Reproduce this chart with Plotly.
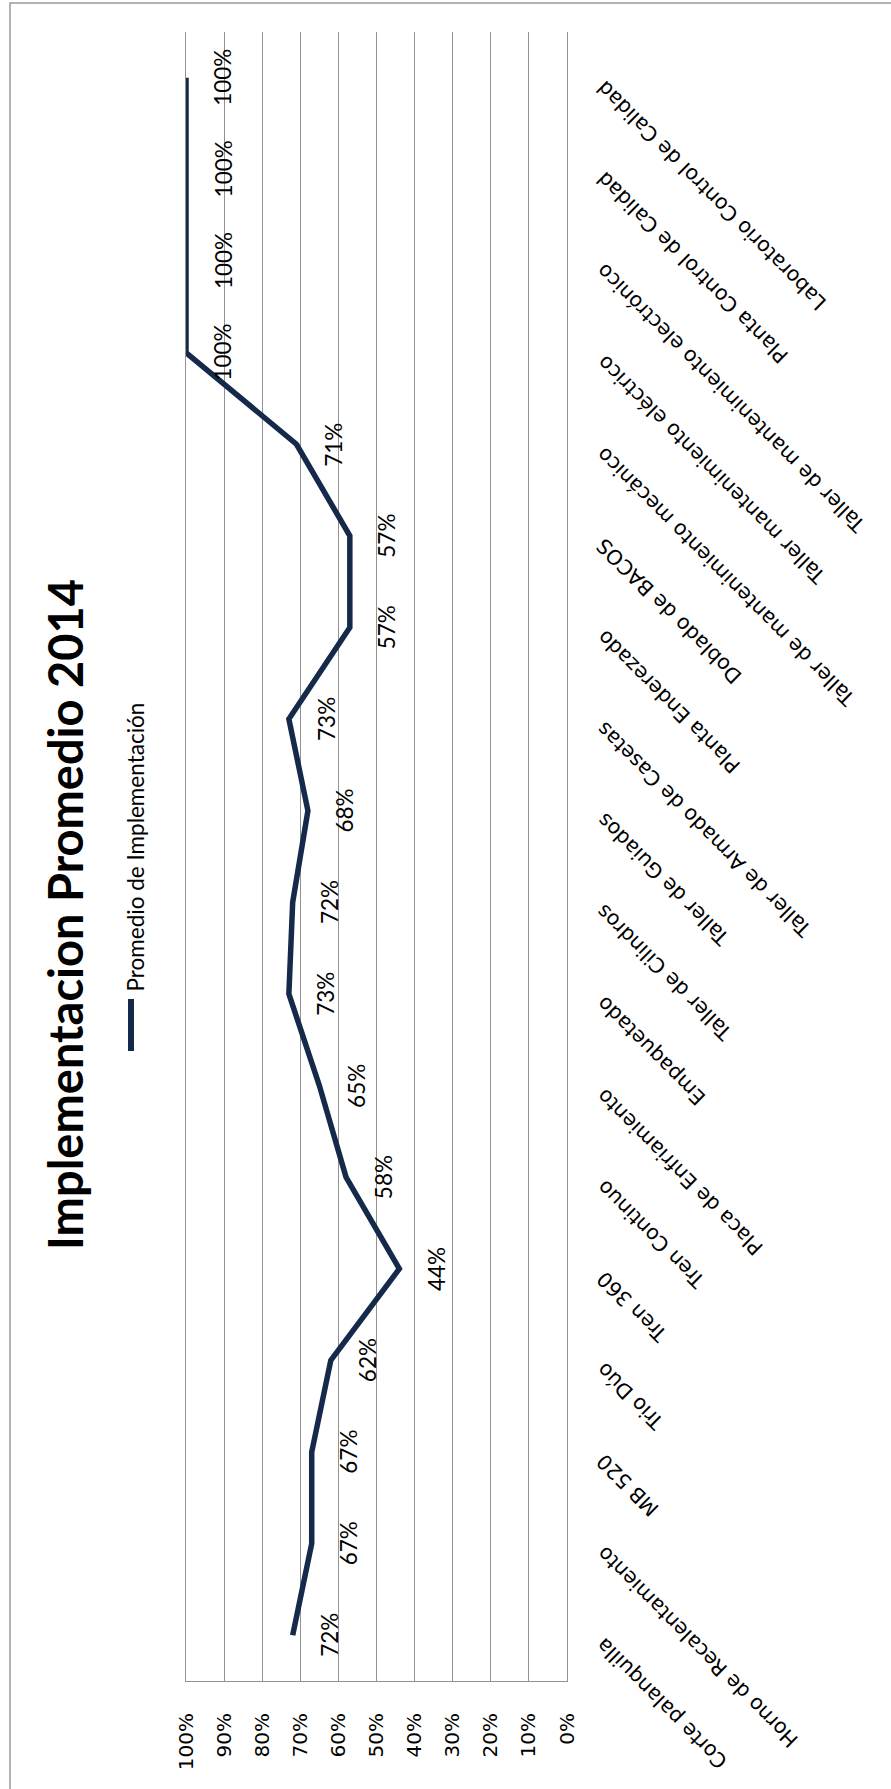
import plotly.graph_objects as go

categories = [
    "Corte palanquilla", "Horno de Recalentamiento", "MB 520", "Trio Dúo",
    "Tren 360", "Tren Continuo", "Placa de Enfriamiento", "Empaquetado",
    "Taller de Cilindros", "Taller de Guiados", "Taller de Armado de Casetas",
    "Planta Enderezado", "Doblado de BACOS", "Taller de mantenimiento mecánico",
    "Taller mantenimiento eléctrico", "Taller de mantenimiento electrónico",
    "Planta Control de Calidad", "Laboratorio Control de Calidad",
]
values = [72, 67, 67, 62, 44, 58, 65, 73, 72, 68, 73, 57, 57, 71, 100, 100, 100, 100]
tick_vals = [i / 10 for i in range(11)]
tick_text = [f"{i * 10}%" for i in range(11)]

W, H = 891, 1789
L, R, T, B = 186, 567, 32, 1681
PW, PH = R - L, B - T


def px_x(px):
    return (px - L) / PW


def px_y(py):
    return (B - py) / PH


LINE = "#152a4a"
GRID = "#929292"

fig = go.Figure()
fig.add_trace(go.Scatter(
    x=[v / 100 for v in values], y=categories, mode="lines",
    line=dict(color=LINE, width=5.5), showlegend=False, hoverinfo="skip",
))

annotations = []
# data labels
for c, v in zip(categories, values):
    annotations.append(dict(
        x=v / 100, y=c, xref="x", yref="y", text=f"{v}%", showarrow=False,
        textangle=-90, xanchor="center", yanchor="middle", xshift=37,
        font=dict(family="Lato", size=22.5, color="#000000"),
    ))
# category labels
for c in categories:
    annotations.append(dict(
        x=px_x(589), y=c, xref="paper", yref="y", text=c, showarrow=False,
        textangle=-135, xanchor="left", yanchor="top", yshift=5,
        font=dict(family="DejaVu Sans", size=20.5, color="#000000"),
    ))
# title
annotations.append(dict(
    x=px_x(65), y=px_y(915), xref="paper", yref="paper",
    text="<b>Implementacion Promedio 2014</b>", showarrow=False, textangle=-90,
    xanchor="center", yanchor="middle",
    font=dict(family="Lato", size=47, color="#000000"),
))
# legend text
annotations.append(dict(
    x=px_x(135), y=px_y(994), xref="paper", yref="paper",
    text="Promedio de Implementación", showarrow=False, textangle=-90,
    xanchor="center", yanchor="bottom",
    font=dict(family="Lato", size=22.5, color="#000000"),
))

shapes = [
    # legend sample line
    dict(type="line", xref="paper", yref="paper",
         x0=px_x(131), x1=px_x(131), y0=px_y(999), y1=px_y(1051),
         line=dict(color=LINE, width=6)),
    # outer frame
    dict(type="rect", xref="paper", yref="paper",
         x0=px_x(10), x1=px_x(1000), y0=px_y(3), y1=px_y(1900),
         line=dict(color="#9a9a9a", width=1.5), layer="below"),
]

fig.update_layout(
    width=W, height=H,
    margin=dict(l=L, r=W - R, t=T, b=H - B),
    paper_bgcolor="white", plot_bgcolor="white",
    annotations=annotations, shapes=shapes, showlegend=False,
    xaxis=dict(
        range=[1.0, 0.0], tickvals=tick_vals, ticktext=tick_text,
        tickangle=-90, showgrid=True, gridcolor=GRID, gridwidth=1,
        zeroline=True, zerolinecolor=GRID, zerolinewidth=1,
        showline=True, linecolor=GRID, linewidth=1, mirror=False,
        ticks="outside", ticklen=23, tickcolor="rgba(0,0,0,0)",
        tickfont=dict(family="DejaVu Sans", size=20, color="#000000"),
    ),
    yaxis=dict(
        type="category", categoryorder="array", categoryarray=categories,
        range=[-0.5, len(categories) - 0.5], showticklabels=False,
        showgrid=False, zeroline=False,
        showline=True, linecolor=GRID, linewidth=1, mirror=True,
    ),
)

fig.write_html("out.html")
